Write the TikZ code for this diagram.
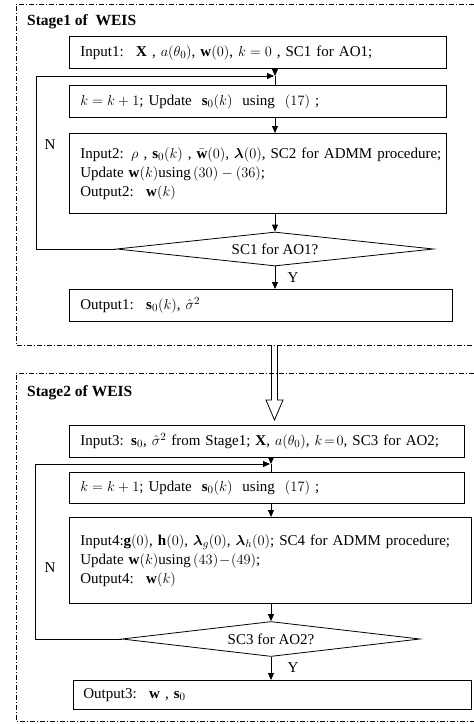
\documentclass[tikz,border=0pt]{standalone}
\usepackage{fontspec}
\setmainfont{Liberation Serif}
\usepackage{amsmath,bm}
\usetikzlibrary{shapes.geometric,arrows.meta}
\begin{document}
\begin{tikzpicture}[x=1pt,y=-1pt, font=\fontsize{15}{19}\selectfont,
 box/.style={draw, line width=0.8pt, anchor=north west, inner xsep=11pt, inner ysep=0pt, align=left},
 dec/.style={draw, line width=0.8pt, diamond, inner sep=0pt, aspect=9},
 arr/.style={line width=0.8pt, -{Triangle[length=7pt,width=6pt]}},
 ln/.style={line width=0.8pt},
 frame/.style={line width=0.7pt, dash pattern=on 5pt off 2pt on 1pt off 2pt},
 lbl/.style={inner sep=0pt}]
\useasboundingbox (0,0) rectangle (474,724);

% ---------- Stage 1 ----------
\draw[frame] (474,4) -- (16,4) -- (16,345) -- (474,345);
\node[lbl, anchor=west, font=\fontsize{15.5}{19}\selectfont\bfseries] (st1) at (27,22) {Stage1 of \ WEIS};

\node[box, text width=355pt, minimum height=32pt] (in1) at (69,36)
 {\mbox{Input1: \ $\mathbf{X}$ , $a(\theta_0)$, $\mathbf{w}(0)$, $k=0$ , SC1 for AO1;}};
\coordinate (j1) at (275,76);
\coordinate (l1) at (36,76);
\node[box, text width=355pt, minimum height=32pt] (k1) at (69,85)
 {\mbox{$k=k+1$; Update \ $\mathbf{s}_0(k)$ \ using \ $(17)$ ;}};
\node[box, text width=355pt, minimum height=80pt] (in2) at (69,133)
 {\mbox{Input2: $\rho$ , $\mathbf{s}_0(k)$ , $\bar{\mathbf{w}}(0)$, $\bm{\lambda}(0)$, SC2 for ADMM procedure;}\\
  \mbox{Update $\mathbf{w}(k)$using$\,(30)-(36)$;}\\
  \mbox{Output2: \ $\mathbf{w}(k)$}};
\node[dec, minimum width=317pt, minimum height=34pt] (d1) at (275,249) {SC1 for AO1?};
\node[box, text width=361pt, minimum height=32pt] (out1) at (69,289)
 {\mbox{Output1: \ $\mathbf{s}_0(k)$, $\hat{\sigma}^2$}};
\node[lbl] (n1) at (50,145) {N};
\node[lbl] (y1) at (293,278) {Y};

\draw[arr] (in1.south -| j1) -- (j1);
\draw[ln] (j1) -- (k1.north -| j1);
\draw[arr] (k1.south -| j1) -- (in2.north -| j1);
\draw[arr] (in2.south -| d1) -- (d1.north);
\draw[arr] (d1.south) -- (out1.north -| d1);
\draw[arr, shorten >=1pt] (d1.west) -| (l1) -- (j1);

% ---------- transition ----------
\coordinate (h1) at (274.5,346);
\coordinate (h2) at (274.5,420);
\draw[ln, fill=white] ([xshift=-3pt]h1) -- ([xshift=-3pt]h2 |- 0,400) -- (266,400) -- (h2)
 -- (283,400) -- ([xshift=3pt]h2 |- 0,400) -- ([xshift=3pt]h1);

% ---------- Stage 2 ----------
\draw[frame] (474,373) -- (16,373) -- (16,721) -- (474,721);
\node[lbl, anchor=west, font=\fontsize{15.5}{19}\selectfont\bfseries] (st2) at (27,393) {Stage2 of WEIS};

\node[box, text width=373pt, minimum height=32pt] (in3) at (69,425)
 {\mbox{Input3: $\mathbf{s}_0$, $\hat{\sigma}^2$ from Stage1; $\mathbf{X}$, $a(\theta_0)$, $k\!=\!0$, SC3 for AO2;}};
\coordinate (j2) at (271,464);
\coordinate (l2) at (35,464);
\node[box, text width=373pt, minimum height=31pt] (k2) at (69,472)
 {\mbox{$k=k+1$; Update \ $\mathbf{s}_0(k)$ \ using \ $(17)$ ;}};
\node[box, text width=380pt, minimum height=86pt] (in4) at (69,517)
 {\mbox{Input4:$\mathbf{g}(0)$, $\mathbf{h}(0)$, $\bm{\lambda}_g(0)$, $\bm{\lambda}_h(0)$; SC4 for ADMM procedure;}\\
  \mbox{Update $\mathbf{w}(k)$using$\,(43)\!-\!(49)$;}\\
  \mbox{Output4: \ $\mathbf{w}(k)$}};
\node[dec, minimum width=298pt, minimum height=35pt] (d2) at (271,639) {SC3 for AO2?};
\node[box, inner xsep=10pt, text width=378pt, minimum height=29pt] (out3) at (73,680)
 {\mbox{Output3: \ $\mathbf{w}$ , $\mathbf{s}_0$}};
\node[lbl] (n2) at (50,568) {N};
\node[lbl] (y2) at (293,668) {Y};

\draw[arr] (in3.south -| j2) -- (j2);
\draw[ln] (j2) -- (k2.north -| j2);
\draw[arr] (k2.south -| j2) -- (in4.north -| j2);
\draw[arr] (in4.south -| d2) -- (d2.north);
\draw[arr] (d2.south) -- (out3.north -| d2);
\draw[arr, shorten >=1pt] (d2.west) -| (l2) -- (j2);
\end{tikzpicture}
\end{document}
